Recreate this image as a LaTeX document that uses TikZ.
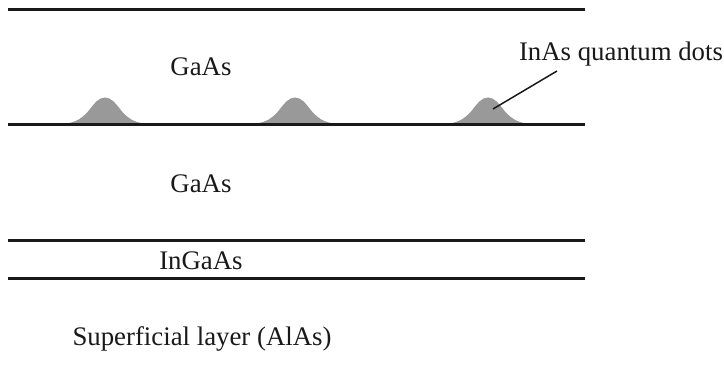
\documentclass[tikz,border=0pt]{standalone}
\usepackage{fontspec}
\setmainfont{Liberation Serif}
\definecolor{dotgray}{gray}{0.6}
\newcommand\qdot[1]{
  \fill[dotgray,shift={(#1,266.5)}] (-44,0) .. controls (-32,2) and (-26,3) .. (-17,13)
    .. controls (-10,22) and (-6,27) .. (0,27)
    .. controls (6,27) and (10,22) .. (17,13)
    .. controls (26,3) and (32,2) .. (44,0) -- cycle;
}
\begin{document}
\begin{tikzpicture}[x=1pt, y=1pt, layer/.style = {line width=3pt, black!90}, lbl/.style = {font=\fontsize{26.8}{30}\selectfont, inner sep=0pt, text=black!90}]
	\useasboundingbox (0,0) rectangle (724,391);
	\qdot{105}
	\qdot{295}
	\qdot{488}
	\coordinate (T1) at (8, 381.5);
	\coordinate (T2) at (585, 381.5);
	\coordinate (M1) at (8, 266.5);
	\coordinate (M2) at (585, 266.5);
	\coordinate (L1) at (8, 150.5);
	\coordinate (L2) at (585, 150.5);
	\coordinate (B1) at (8, 112.5);
	\coordinate (B2) at (585, 112.5);
	\draw[layer] (T1) -- (T2);
	\draw[layer] (M1) -- (M2);
	\draw[layer] (L1) -- (L2);
	\draw[layer] (B1) -- (B2);
	\node[lbl] (capA) at (201, 324) {GaAs};
	\node[lbl] (capB) at (201, 207) {GaAs};
	\node[lbl] (well) at (201, 130) {InGaAs};
	\node[lbl] (base) at (202, 52) {Superficial layer (AlAs)};
	\node[lbl] (dots) at (621, 337) {InAs quantum dots};
	\coordinate (tip) at (493, 282);
	\coordinate (lead) at (557, 320);
	\draw[line width=1.5pt, black!90] (tip) -- (lead);
\end{tikzpicture}
\end{document}
